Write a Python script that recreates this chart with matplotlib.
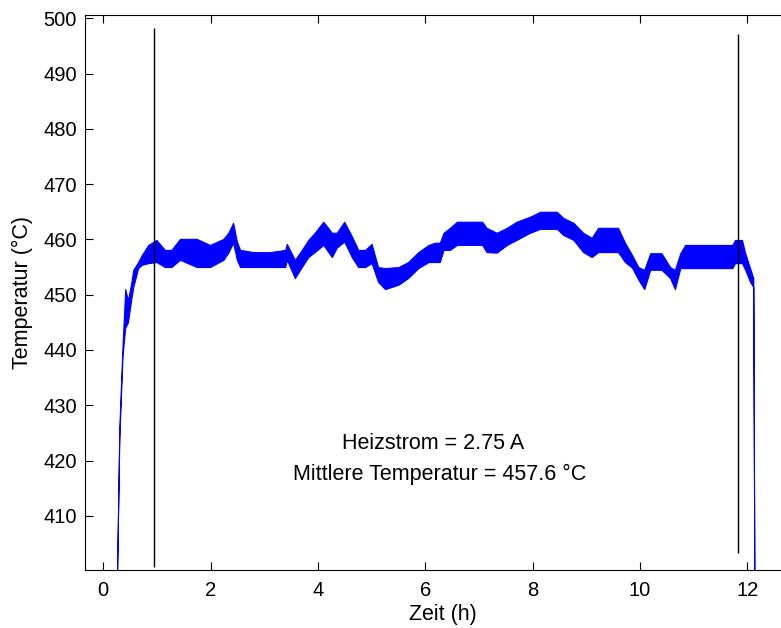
import matplotlib
matplotlib.use('Agg')
import matplotlib.pyplot as plt

plt.rcParams['font.family'] = ['Liberation Sans', 'DejaVu Sans']

hours = [0.255, 0.30, 0.36, 0.41, 0.46, 0.52, 0.56, 0.65, 0.72, 0.84, 0.99,
         1.15, 1.27, 1.43, 1.74, 1.99, 2.24, 2.33, 2.42, 2.49, 2.55, 2.80,
         3.10, 3.39, 3.42, 3.57, 3.70, 3.82, 3.94, 4.10, 4.26, 4.35, 4.49,
         4.63, 4.75, 4.88, 5.00, 5.12, 5.25, 5.50, 5.68, 5.87, 6.06, 6.18,
         6.27, 6.34, 6.46, 6.59, 7.06, 7.14, 7.33, 7.52, 7.70, 7.95, 8.14,
         8.45, 8.57, 8.76, 8.94, 9.10, 9.22, 9.59, 9.72, 9.85, 9.97, 10.08,
         10.19, 10.40, 10.56, 10.65, 10.75, 10.84, 11.72, 11.77, 11.90, 11.96,
         12.05, 12.11, 12.13]
temp_low = [398, 424, 439, 444, 445, 449, 451.4, 454.8, 455.4, 455.7, 455.9,
            455.0, 455.0, 456.3, 455.0, 455.0, 456.3, 457.6, 459.4, 456.3, 455.0, 455.0,
            455.0, 455.0, 456.3, 453.0, 455.0, 456.8, 457.7, 459.0, 456.8, 458.5, 459.6,
            456.8, 455.0, 455.0, 455.7, 452.3, 451.0, 451.8, 453.0, 454.8, 455.9, 455.9,
            455.9, 458.1, 458.1, 459.0, 459.0, 457.7, 457.6, 459.0, 459.9, 461.2, 461.9,
            461.9, 460.8, 459.9, 457.7, 456.8, 457.7, 457.7, 455.9, 454.9, 452.7, 451.0,
            454.5, 454.5, 453.0, 451.0, 454.8, 454.8, 454.8, 455.7, 455.7, 454.5,
            452.3, 451.4, 398]
temp_high = [398, 426, 441, 451, 449, 452, 454.5, 455.9, 457.2, 459.0, 459.9,
             458.1, 458.1, 460.1, 460.1, 459.0, 460.1, 461.2, 463.0, 459.6, 458.1, 457.7,
             457.7, 458.1, 459.2, 456.3, 458.1, 459.9, 461.2, 463.2, 461.2, 461.2, 463.2,
             460.6, 458.1, 458.1, 459.2, 455.0, 454.8, 455.0, 455.9, 457.7, 459.0, 459.4,
             459.4, 461.2, 462.1, 463.2, 463.2, 462.1, 461.2, 462.1, 463.2, 464.1, 465.0,
             465.0, 463.9, 463.0, 461.2, 460.3, 462.1, 462.1, 459.4, 457.2, 455.0, 454.5,
             457.5, 457.5, 455.0, 454.5, 457.5, 459.0, 459.0, 459.9, 459.9, 457.5,
             454.8, 453.0, 398]

# black marker lines (start / end of evaluation window)
marker_x = [0.945, 11.83]
marker_bottom = [400.8, 403.3]
marker_top = [498.3, 497.2]

x_ticks = [0, 2, 4, 6, 8, 10, 12]
y_ticks = [410, 420, 430, 440, 450, 460, 470, 480, 490, 500]

fig = plt.figure(figsize=(7.81, 6.28), dpi=100)
# axes run past the right edge of the image, like the original
ax = fig.add_axes([0.1088, 0.0924, 0.9155, 0.8838])

ax.fill_between(hours, temp_low, temp_high, color='blue', edgecolor='blue', linewidth=0.8)
ax.vlines(marker_x, marker_bottom, marker_top, color='black', linewidth=1.0)

ax.text(6.14, 423.0, 'Heizstrom = 2.75 A', ha='center', va='center', fontsize=15.5)
ax.text(6.27, 417.4, 'Mittlere Temperatur = 457.6 °C', ha='center', va='center', fontsize=15.5)

ax.set_xlim(-0.34, 12.98)
ax.set_ylim(400.2, 500.6)
ax.set_xticks(x_ticks)
ax.set_yticks(y_ticks)
ax.tick_params(direction='in', top=True, right=True, length=5.5, width=0.8,
               labelsize=14.5)
ax.tick_params(axis='x', pad=8)
ax.tick_params(axis='y', pad=6)
for s in ax.spines.values():
    s.set_linewidth(0.8)

ax.set_xlabel('Zeit (h)', fontsize=15.5, labelpad=3)
ax.set_ylabel('Temperatur (°C)', fontsize=15.5, labelpad=7)

plt.savefig('out.png', dpi=100)
